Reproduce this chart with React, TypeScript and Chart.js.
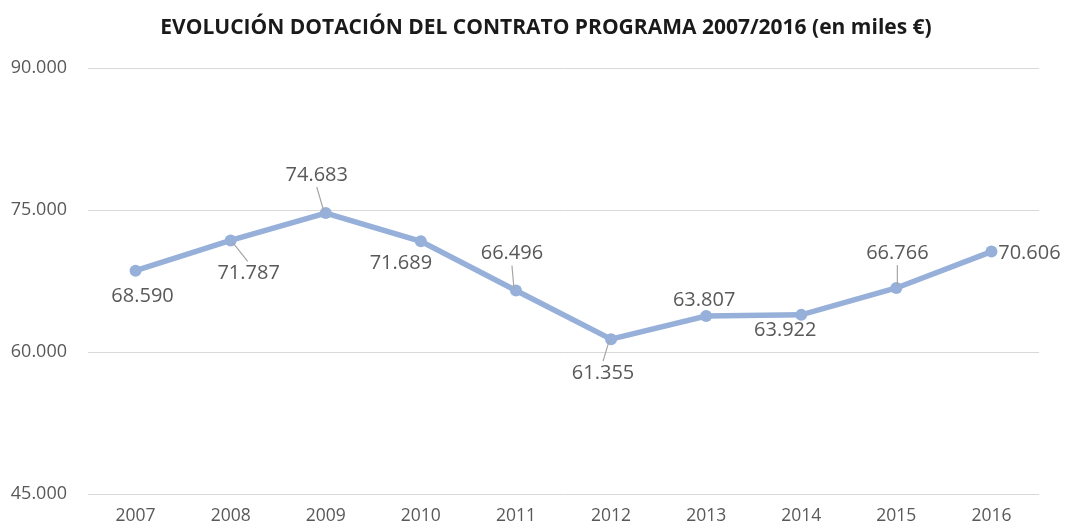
import React, { useEffect, useRef } from "react";
import { Chart, registerables } from "chart.js";

Chart.register(...registerables);

const TITLE = "EVOLUCIÓN DOTACIÓN DEL CONTRATO PROGRAMA 2007/2016 (en miles €)";
const YEARS = ["2007", "2008", "2009", "2010", "2011", "2012", "2013", "2014", "2015", "2016"];
const VALUES = [68590, 71787, 74683, 71689, 66496, 61355, 63807, 63922, 66766, 70606];
const Y_MIN = 45000;
const Y_MAX = 90000;
const Y_STEP = 15000;

// label placement (style): offset of label centre from the point, and whether a leader line is drawn
const LABEL_OFFSETS: [number, number, boolean][] = [
  [7, 26, false],
  [18, 33, true],
  [-9, -38, true],
  [-20, 22, false],
  [-4, -37, true],
  [-8, 34, true],
  [-2, -16, false],
  [-16, 15, false],
  [1, -35, true],
  [38, 2, false],
];

const fmt = (v: number) => String(Math.round(v)).replace(/\B(?=(\d{3})+(?!\d))/g, ".");

const LINE_COLOR = "#96B0DA";
const TEXT_COLOR = "#595959";
const FONT = "'Open Sans', 'Noto Sans', sans-serif";

const labelPlugin = {
  id: "customLabels",
  afterDraw(chart: any) {
    const ctx = chart.ctx;
    // title
    ctx.save();
    ctx.fillStyle = "#1a1a1a";
    ctx.font = `bold 21px ${FONT}`;
    ctx.textAlign = "center";
    ctx.textBaseline = "middle";
    ctx.fillText(TITLE, 546, 28);
    ctx.restore();

    const meta = chart.getDatasetMeta(0);
    ctx.save();
    ctx.font = `20px ${FONT}`;
    ctx.fillStyle = TEXT_COLOR;
    ctx.textAlign = "center";
    ctx.textBaseline = "middle";
    meta.data.forEach((pt: any, i: number) => {
      const [dx, dy, leader] = LABEL_OFFSETS[i];
      const lx = pt.x + dx;
      const ly = pt.y + dy;
      if (leader) {
        const ey = dy < 0 ? ly + 12 : ly - 12;
        const sx = pt.x + (dx >= 0 ? 1 : -1) * Math.min(2, Math.abs(dx));
        ctx.save();
        ctx.strokeStyle = "#A6A6A6";
        ctx.lineWidth = 1.2;
        ctx.beginPath();
        ctx.moveTo(sx, pt.y + (dy < 0 ? -2 : 2));
        ctx.lineTo(dx > 10 ? pt.x + 17 : lx, ey);
        ctx.stroke();
        ctx.restore();
      }
      ctx.fillText(fmt(VALUES[i]), lx, ly);
    });
    ctx.restore();
  },
};

export default function App() {
  const ref = useRef<HTMLCanvasElement | null>(null);
  useEffect(() => {
    document.body.style.margin = "0";
    const chart = new Chart(ref.current!, {
      type: "line",
      data: {
        labels: YEARS,
        datasets: [
          {
            data: VALUES,
            borderColor: LINE_COLOR,
            backgroundColor: LINE_COLOR,
            borderWidth: 5.5,
            pointRadius: 6,
            pointBackgroundColor: LINE_COLOR,
            pointBorderColor: LINE_COLOR,
            pointBorderWidth: 0,
            tension: 0,
          },
        ],
      },
      options: {
        animation: false,
        responsive: false,
        layout: { padding: { top: 68, right: 26, left: 0, bottom: 0 } },
        plugins: { legend: { display: false }, tooltip: { enabled: false }, title: { display: false } },
        scales: {
          x: {
            offset: true,
            grid: { display: false, drawTicks: false },
            border: { display: false },
            ticks: { color: TEXT_COLOR, font: { family: FONT, size: 17.5 }, padding: 12, maxRotation: 0 },
            afterFit: (s: any) => {
              s.height = 33;
            },
          },
          y: {
            min: Y_MIN,
            max: Y_MAX,
            grid: { color: "#D9D9D9", lineWidth: 1, drawTicks: false },
            border: { display: false },
            ticks: {
              stepSize: Y_STEP,
              color: TEXT_COLOR,
              font: { family: FONT, size: 18 },
              padding: 21,
              callback: (v: any) => fmt(Number(v)),
            },
            afterFit: (s: any) => {
              s.width = 88;
            },
          },
        },
      },
      plugins: [labelPlugin],
    });
    return () => chart.destroy();
  }, []);
  return (
    <div style={{ position: "absolute", left: 0, top: 0, width: 1065, height: 527 }}>
      <canvas ref={ref} width={1065} height={527} />
    </div>
  );
}
